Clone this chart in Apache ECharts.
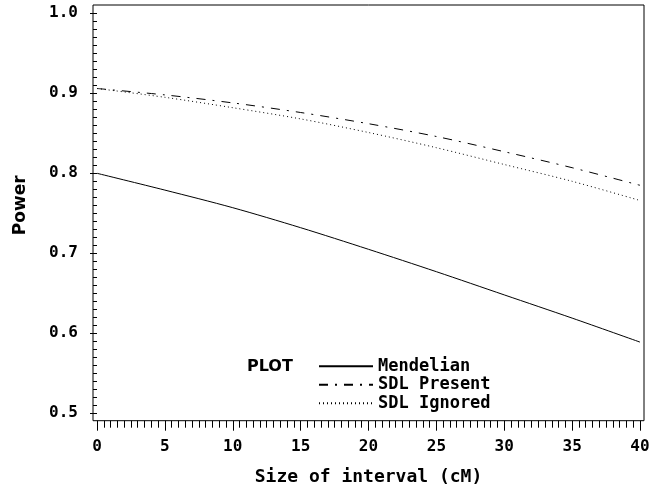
<!DOCTYPE html>
<html>
<head>
<meta charset="utf-8">
<script src="https://cdn.jsdelivr.net/npm/echarts@6/dist/echarts.min.js"></script>
<style>html,body{margin:0;padding:0;background:#fff;}#c{width:661px;height:488px;}</style>
</head>
<body>
<div id="c"></div>
<script>
const intervals = [0, 5, 10, 15, 20, 25, 30, 35, 40];
const mendelian = [0.800, 0.779, 0.757, 0.732, 0.705, 0.677, 0.648, 0.619, 0.589];
const sdlPresent = [0.906, 0.898, 0.888, 0.876, 0.862, 0.846, 0.827, 0.807, 0.785];
const sdlIgnored = [0.906, 0.895, 0.882, 0.868, 0.851, 0.832, 0.811, 0.790, 0.766];
const seriesNames = ['Mendelian', 'SDL Present', 'SDL Ignored'];

const mono = '"DejaVu Sans Mono", monospace';
const pair = (ys) => intervals.map((x, i) => [x, ys[i]]);

const chart = echarts.init(document.getElementById('c'), null, {renderer: 'canvas'});
chart.setOption({
  backgroundColor: '#fff',
  animation: false,
  title: {
    text: 'PLOT', left: 247, top: 359, padding: 0,
    textStyle: {fontFamily: '"DejaVu Sans", sans-serif', fontWeight: 'bold', fontSize: 16, color: '#000'}
  },
  legend: {
    orient: 'vertical', left: 318, top: 357, padding: 0,
    itemWidth: 54, itemHeight: 14, itemGap: 0,
    data: seriesNames,
    itemStyle: {opacity: 0},
    textStyle: {fontFamily: mono, fontWeight: 'bold', fontSize: 17, lineHeight: 18.5, color: '#000'}
  },
  grid: [
    {left: 97, right: 21, top: 13.3, bottom: 74.7, containLabel: false, outerBoundsMode: 'none'},
    {left: 93, right: 17, top: 5, bottom: 67.3, show: true, borderColor: '#000', borderWidth: 1, backgroundColor: 'transparent', z: 0, containLabel: false, outerBoundsMode: 'none'}
  ],
  xAxis: [
    {
      type: 'value', gridIndex: 0, min: 0, max: 40, interval: 5, offset: 7.4,
      name: 'Size of interval (cM)', nameLocation: 'middle', nameGap: 48,
      nameTextStyle: {fontFamily: mono, fontWeight: 'bold', fontSize: 18, color: '#000'},
      axisLine: {show: false},
      axisTick: {show: true, inside: false, length: 10, lineStyle: {color: '#000', width: 1}},
      minorTick: {show: true, splitNumber: 10, length: 7, lineStyle: {color: '#000', width: 1}},
      axisLabel: {margin: 18, fontFamily: mono, fontWeight: 'bold', fontSize: 16, color: '#000'},
      splitLine: {show: false}
    },
    {type: 'value', gridIndex: 1, min: 0, max: 1, show: false}
  ],
  yAxis: [
    {
      type: 'value', gridIndex: 0, min: 0.5, max: 1.0, interval: 0.1, offset: 4,
      name: 'Power', nameLocation: 'middle', nameGap: 64,
      nameTextStyle: {fontFamily: '"DejaVu Sans", sans-serif', fontWeight: 'bold', fontSize: 17, color: '#000', padding: [0, 0, 0, 16]},
      axisLine: {show: false},
      axisTick: {show: true, inside: false, length: 7, lineStyle: {color: '#000', width: 1}},
      minorTick: {show: true, splitNumber: 10, length: 4, lineStyle: {color: '#000', width: 1}},
      axisLabel: {margin: 15, fontFamily: mono, fontWeight: 'bold', fontSize: 16, color: '#000', formatter: (v) => v.toFixed(1)},
      splitLine: {show: false}
    },
    {type: 'value', gridIndex: 1, min: 0, max: 1, show: false}
  ],
  series: [
    {name: seriesNames[0], type: 'line', xAxisIndex: 0, yAxisIndex: 0, data: pair(mendelian), symbol: 'none', smooth: 0.3,
     lineStyle: {color: '#000', width: 1, type: 'solid'}, itemStyle: {color: '#000'}},
    {name: seriesNames[1], type: 'line', xAxisIndex: 0, yAxisIndex: 0, data: pair(sdlPresent), symbol: 'none', smooth: 0.3,
     lineStyle: {color: '#000', width: 1, type: [9, 7, 2, 7]}, itemStyle: {color: '#000'}},
    {name: seriesNames[2], type: 'line', xAxisIndex: 0, yAxisIndex: 0, data: pair(sdlIgnored), symbol: 'none', smooth: 0.3,
     lineStyle: {color: '#000', width: 1, type: [1, 3]}, itemStyle: {color: '#000'}}
  ]
});
</script>
</body>
</html>
